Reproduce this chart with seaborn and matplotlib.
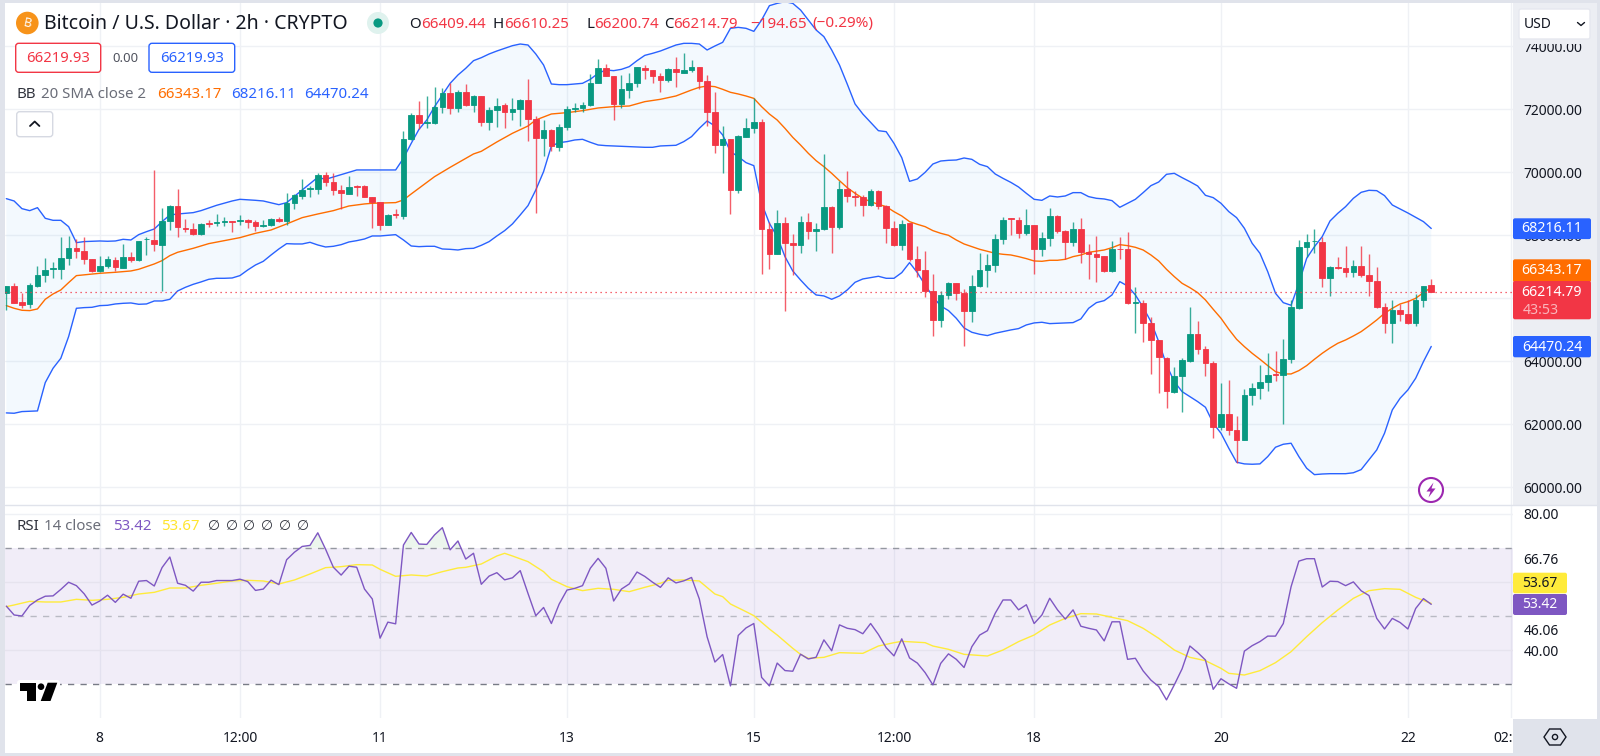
# %%
# BTC/USD 2h candles with bollinger bands and RSI
import matplotlib
matplotlib.use('Agg')
import numpy as np
import matplotlib.pyplot as plt
import seaborn as sns
from matplotlib.patches import Rectangle, FancyBboxPatch, Circle, Polygon

# candles
opens = [66160, 66390, 65870, 65810, 66400, 66740, 66940, 66930, 67280, 67610,
         67500, 67250, 66850, 67030, 67220, 66970, 67310, 67200, 67870, 67850,
         67700, 68440, 68940, 68240, 68200, 68040, 68400, 68390, 68430, 68450,
         68440, 68490, 68420, 68300, 68330, 68510, 68440, 69040, 69260, 69460,
         69470, 69900, 69680, 69450, 69320, 69570, 69550, 69230, 69070, 68330,
         68680, 68610, 71050, 71820, 71570, 71560, 72060, 72530, 72030, 72550,
         72130, 72430, 71610, 71990, 72130, 71920, 72020, 72290, 71700, 71080,
         71340, 70810, 71440, 72010, 72040, 72140, 72850, 73300, 73060, 72160,
         72620, 72830, 73310, 73250, 73060, 72940, 73270, 73160, 73250, 73350,
         72910, 71900, 70870, 71050, 69440, 71130, 71410, 71590, 68190, 67410,
         68400, 67770, 67690, 68420, 68120, 68190, 68910, 68270, 69460, 69250,
         69200, 68960, 69410, 68930, 68240, 67690, 68380, 67250, 66900, 66220,
         65310, 66100, 66470, 66160, 65580, 66390, 66890, 67060, 67880, 68540,
         68480, 68080, 68330, 67570, 67900, 68620, 68150, 67790, 68190, 67480,
         67410, 67340, 66860, 67580, 67550, 65860, 65860, 65200, 64670, 64110,
         63030, 63530, 64010, 64860, 64390, 63930, 61900, 62310, 61810, 61500,
         62930, 63160, 63350, 63580, 63550, 64060, 65700, 67630, 67810, 67790,
         66640, 67000, 66960, 66840, 67030, 66730, 66550, 65710, 65220, 65640,
         65490, 65200, 65950, 66409.44]
highs = [66400, 66480, 66180, 66480, 67040, 67270, 67140, 67930, 67990, 67880,
         67930, 67250, 67340, 67350, 67320, 67710, 67470, 67820, 67940, 70070,
         68860, 68960, 69460, 68510, 68400, 68400, 68490, 68680, 68590, 68450,
         68640, 68530, 68470, 68470, 68540, 68570, 69330, 69310, 69780, 69570,
         69970, 70000, 69970, 69590, 69880, 69590, 69590, 69230, 69070, 68680,
         68830, 71310, 71870, 72270, 72420, 72720, 72670, 72850, 72610, 72790,
         72450, 72430, 72080, 72350, 72190, 72350, 72330, 72950, 71800, 71660,
         71370, 71530, 72100, 72210, 72220, 73120, 73600, 73440, 73060, 73090,
         73160, 73350, 73410, 73250, 73160, 73300, 73650, 73780, 73570, 73350,
         73080, 72560, 71470, 71050, 71190, 71720, 72350, 71690, 68430, 68800,
         68570, 68040, 68610, 68720, 68380, 70570, 68930, 69730, 70030, 69420,
         69280, 69460, 69440, 68960, 68450, 68490, 68400, 67660, 67500, 66770,
         66230, 66520, 66500, 66290, 66750, 67450, 67400, 68030, 68590, 68550,
         68590, 68820, 68340, 68090, 68880, 68640, 68170, 68410, 68540, 67720,
         67990, 67340, 67810, 67940, 68090, 66350, 65930, 65420, 64680, 64120,
         63830, 64090, 65730, 65290, 64490, 64010, 63320, 63400, 62260, 63130,
         63310, 63870, 64270, 64330, 64700, 65950, 67850, 68030, 68210, 67940,
         67030, 67310, 67660, 67220, 67670, 67400, 66980, 65840, 65950, 65820,
         65950, 66130, 66390, 66610.25]
lows = [65630, 65840, 65680, 65680, 66370, 66530, 66630, 66600, 67060, 67270,
        67090, 66830, 66830, 66950, 66880, 66950, 67140, 67190, 67370, 67510,
        66230, 68170, 67960, 68110, 68020, 68010, 68270, 68300, 68310, 68100,
        68340, 68230, 68150, 68260, 68310, 68420, 68330, 68830, 69150, 69230,
        69310, 69580, 69280, 68820, 69300, 69260, 69210, 68240, 68170, 68320,
        68540, 68510, 71030, 71370, 71420, 71530, 71890, 71840, 71900, 72110,
        71910, 71470, 71340, 71450, 71420, 71660, 71470, 71000, 68720, 70520,
        70660, 70690, 71340, 71900, 71930, 72120, 72830, 73050, 71660, 72040,
        72360, 72720, 72950, 72830, 72540, 72880, 72720, 73140, 73200, 72660,
        71470, 70620, 69970, 68680, 69350, 71120, 71240, 66770, 66930, 67390,
        65610, 66730, 67450, 67870, 67490, 68170, 67430, 68210, 69060, 68940,
        68610, 68940, 68840, 67750, 67660, 67530, 67170, 66690, 66030, 64800,
        65080, 65980, 65930, 64490, 65240, 66370, 66370, 66840, 67710, 68010,
        67910, 68020, 66760, 67340, 67660, 68080, 67240, 67660, 67130, 66600,
        66530, 66840, 66840, 67240, 65810, 64890, 64620, 63590, 62980, 62510,
        63000, 62400, 63990, 64220, 63540, 61550, 61820, 61660, 60760, 61490,
        62610, 62800, 63040, 63370, 62010, 63960, 65650, 67320, 67450, 66350,
        66080, 66930, 66660, 66670, 66660, 66070, 65700, 64890, 64570, 65290,
        65190, 65120, 65730, 66200.74]
closes = [66400, 65860, 65800, 66420, 66740, 66910, 66960, 67290, 67610, 67510,
          67250, 66850, 67040, 67240, 66980, 67310, 67200, 67820, 67890, 67720,
          68450, 68940, 68270, 68210, 68040, 68370, 68370, 68420, 68450, 68430,
          68480, 68430, 68300, 68320, 68520, 68440, 69040, 69270, 69450, 69500,
          69910, 69700, 69450, 69330, 69530, 69530, 69230, 69070, 68330, 68650,
          68650, 71050, 71830, 71560, 71590, 72060, 72530, 72030, 72560, 72130,
          72430, 71610, 71990, 72120, 71920, 72020, 72300, 71700, 71080, 71340,
          70850, 71450, 72010, 72030, 72150, 72850, 73300, 73070, 72160, 72630,
          72830, 73330, 73250, 73060, 72940, 73280, 73170, 73240, 73340, 72910,
          71920, 70870, 71050, 69440, 71150, 71410, 71590, 68190, 67410, 68400,
          67770, 67690, 68420, 68120, 68190, 68910, 68270, 69460, 69250, 69200,
          68960, 69410, 68930, 68240, 67690, 68360, 67250, 66900, 66220, 65310,
          66100, 66480, 66160, 65580, 66390, 66890, 67060, 67880, 68490, 68510,
          68080, 68330, 67570, 67900, 68620, 68140, 67790, 68190, 67480, 67410,
          67320, 66860, 67550, 67550, 65840, 65880, 65200, 64680, 64120, 63050,
          63530, 64040, 64860, 64390, 63930, 61900, 62310, 61810, 61500, 62930,
          63160, 63350, 63570, 63550, 64060, 65730, 67630, 67790, 67830, 66640,
          66990, 66970, 66840, 67030, 66730, 66550, 65710, 65230, 65640, 65490,
          65210, 65950, 66390, 66214.79]

# bollinger lines, read where the line could be made out
upper_idx = [0, 1, 2, 3, 4, 5, 6, 7, 8, 9, 10, 11, 12, 13, 14, 15, 16, 17, 18, 19, 20, 21, 22, 24, 25, 27, 29, 30,
             32, 33, 35, 36, 38, 40, 41, 44, 45, 46, 50, 51, 52, 53, 54, 55, 56, 57, 58, 59, 60, 61, 62, 63, 64, 65,
             66, 67, 68, 69, 70, 71, 72, 73, 74, 75, 76, 77, 78, 79, 80, 81, 82, 83, 84, 85, 86, 87, 88, 89, 90, 91,
             92, 93, 94, 95, 96, 97, 98, 99, 100, 101, 102, 103, 104, 105, 106, 107, 108, 109, 110, 111, 112, 113,
             114, 115, 116, 117, 118, 119, 120, 121, 122, 123, 124, 125, 126, 127, 128, 129, 130, 131, 132, 133,
             134, 135, 136, 137, 138, 139, 140, 141, 142, 143, 144, 145, 146, 147, 148, 149, 150, 151, 152, 153,
             154, 155, 156, 157, 158, 159, 160, 161, 162, 163, 164, 165, 166, 167, 168, 169, 170, 171, 172, 173,
             174, 175, 176, 177, 178, 179, 180, 181, 182, 183]
upper = [69163, 69089, 68846, 68782, 68877, 68539, 68475, 68475, 68274, 67766, 67800, 67810, 67819, 67810, 67819,
         67872, 67851, 68020, 68115, 68200, 68433, 68644, 68676, 68719, 68782, 68951, 69089, 69142,
         69110, 69089, 68972, 69036, 69438, 69840, 69777, 69999, 70074, 70074, 70074, 70444, 70920, 71365, 71661,
         72084, 72454, 72825, 73089, 73301, 73544, 73639, 73756, 73851, 73935, 74020,
         74073, 74041, 73756, 73406, 72803, 72782, 72782, 72803, 72825, 72952, 73142, 73248, 73227, 73269, 73354,
         73544, 73713, 73777, 73851, 73946, 74041, 74094, 74094, 74073, 73883, 74010,
         74126, 74571, 74602, 74571, 74475, 74835, 75290, 75364, 75417, 75364, 75153, 74835, 74518, 74306, 73883,
         73407, 72800, 72170, 71850, 71586, 71321, 71289,
         70919, 70464, 69713, 69787, 69999, 70263, 70358, 70380, 70390, 70454, 70411, 70253, 70179, 69946, 69808,
         69681, 69533, 69332, 69142, 69110,
         69248, 69216, 69248, 69354, 69354, 69227, 69174, 69153, 69100, 68888, 69015, 69142, 69354, 69576, 69692,
         69936, 69967, 69830, 69703, 69565,
         69269, 69195, 69015, 68751, 68560, 68222, 67745, 67427, 66845, 66158, 65861, 65777, 66475, 67268, 67639,
         67957, 68454, 68698, 68909, 69174,
         69364, 69428, 69417, 69259, 68962, 68835, 68708, 68571, 68433, 68216.11]
lower = [62360, 62349, 62402, 62412, 62423, 63322, 63777, 64095, 64782, 65682,
         65703, 65713, 65766, 65777, 65819, 65840, 65851, 65809, 65819, 65914,
         65914, 65967, 66232, 66348, 66443, 66518, 66602, 66634, 66634, 66644,
         66719, 66898, 67057, 67173, 67374, 67565, 67734, 67724, 67724, 67777,
         67692, 67628, 67650, 67702, 67787, 67829, 67882, 67978, 67978, 67999,
         68020, 67851, 67660, 67639, 67650, 67650, 67565, 67554, 67533, 67576,
         67586, 67681, 67798, 67978, 68147, 68360, 68645, 68942, 69439, 70021,
         70836, 70941, 70973, 71026, 71047, 70952, 70867, 70846, 70836, 70825,
         70814, 70804, 70793, 70793, 70836, 70846, 70857, 70973, 71132, 71396,
         71629, 71470, 71185, 70656, 70496, 70306, 70210, 69015, 68380, 67957,
         67322, 66867, 66581, 66317, 66105, 66074, 65968, 66074, 66264, 66507,
         66613, 66655, 66698, 66634, 66634, 66814, 67132, 66814, 66423, 66052,
         65756, 65608, 65365, 65058, 64920, 64857, 64815, 64889, 64942, 64994,
         65037, 65153, 65217, 65238, 65195, 65206, 65217, 65227, 65344, 65681,
         65861, 65925, 66105, 66528, 66390, 66105, 65713, 65258, 64623, 63883,
         63354, 63036, 62878, 62719, 62539, 62031, 61714, 61238, 60794, 60741,
         60730, 60741, 60973, 61270, 61365, 61397, 60973, 60603, 60400, 60420,
         60430, 60430, 60430, 60460, 60560, 60870, 61185, 61714, 62455, 62825,
         63089, 63460, 63989, 64470.24]
basis_idx = [0, 1, 2, 3, 4, 5, 6, 7, 8, 9, 12, 14, 16, 17, 19, 20, 21, 22, 24, 26, 28, 30, 32, 34, 36, 38, 40, 42, 43,
             44, 45, 46, 47, 50, 51, 52, 55, 57, 60, 61, 63, 65, 67, 68, 70, 72, 74, 76, 78, 80, 82, 84, 86, 88, 89,
             90, 91, 92, 93, 94, 95, 96, 97, 98, 99, 100, 101, 102, 103, 104, 105, 106, 107, 108, 109, 110, 111,
             112, 113, 114, 115, 116, 117, 118, 119, 120, 121, 122, 123, 124, 125, 126, 127, 128, 129, 130, 131,
             132, 133, 134, 135, 136, 137, 138, 139, 141, 142, 143, 144, 145, 146, 147, 148, 149, 150, 151, 152,
             153, 154, 155, 156, 157, 158, 159, 160, 161, 162, 163, 164, 165, 166, 167, 168, 169, 170, 171, 172,
             173, 174, 175, 176, 177, 178, 179, 180, 181, 182, 183]
basis = [65767, 65682, 65619, 65608, 65661, 65968, 66137, 66264, 66497, 66719, 66793, 66825, 66867, 66920, 67089,
         67195, 67354, 67460, 67586, 67735, 67830, 67925, 68063, 68168, 68359, 68560, 68676, 68782, 68856,
         68930, 68962, 68995, 69016, 69037, 69122, 69312, 69862, 70158, 70582, 70666, 70963, 71238, 71470, 71661,
         71851, 71894, 71957, 72042, 72084, 72105, 72243, 72317, 72423, 72613, 72698,
         72740, 72719, 72634, 72539, 72486, 72422, 72347, 72083, 71850, 71660, 71395, 71110, 70866, 70602, 70369,
         70179, 69967, 69734, 69512, 69332, 69173, 69068,
         68983, 68909, 68750, 68613, 68433, 68348, 68274, 68147, 68063, 67999, 67851, 67724, 67639, 67555, 67491,
         67428, 67396, 67375, 67322, 67259,
         67184, 67174, 67206, 67206, 67237, 67322, 67374, 67459, 67533, 67607, 67702, 67671, 67618, 67533, 67374,
         67184, 66919, 66687, 66475, 66337,
         66179, 65946, 65650, 65364, 65015, 64698, 64465, 64253, 64063, 63862, 63671, 63597, 63597, 63703, 63862,
         64063, 64253, 64422, 64571, 64676,
         64803, 64941, 65121, 65311, 65523, 65681, 65819, 65893, 65999, 66179, 66343.17]

rsi = [52.9, 50.3, 50.0, 53.1, 54.7, 55.8, 55.9, 57.8, 59.9, 58.9,
       56.5, 53.2, 54.4, 56.1, 54.0, 56.4, 55.2, 60.2, 60.4, 58.8,
       64.2, 67.3, 59.6, 59.0, 57.3, 59.9, 59.9, 60.4, 60.4, 60.4,
       60.8, 60.1, 57.5, 57.9, 60.5, 59.2, 66.5, 68.7, 70.4, 70.7,
       74.4, 69.6, 64.3, 62.0, 64.6, 64.3, 57.9, 55.0, 43.5, 48.2,
       47.7, 70.8, 74.5, 71.1, 71.0, 73.8, 75.9, 69.4, 72.0, 66.7,
       68.4, 59.3, 61.7, 62.7, 60.6, 61.2, 63.3, 56.6, 50.1, 52.5,
       47.8, 53.5, 57.6, 58.1, 58.9, 64.0, 66.9, 64.0, 54.4, 57.9,
       59.4, 62.9, 61.6, 59.9, 58.4, 61.2, 59.7, 60.3, 61.3, 55.0,
       43.9, 36.5, 38.7, 29.5, 44.3, 46.5, 47.8, 32.0, 29.5, 36.2,
       34.0, 33.8, 38.8, 37.4, 37.9, 43.0, 39.8, 47.4, 46.4, 46.0,
       44.8, 47.8, 44.6, 40.7, 38.3, 43.3, 37.7, 36.2, 33.4, 29.8,
       36.1, 38.9, 37.3, 34.9, 41.0, 44.4, 45.7, 50.8, 54.7, 54.7,
       51.8, 53.3, 47.8, 50.3, 55.2, 51.8, 49.1, 51.8, 47.0, 46.4,
       45.9, 42.7, 48.3, 48.3, 37.3, 37.6, 33.9, 31.2, 29.3, 25.4,
       29.8, 34.5, 41.2, 39.3, 37.1, 28.5, 31.6, 30.1, 28.8, 39.7,
       41.3, 42.5, 44.1, 44.1, 47.8, 58.6, 66.1, 66.8, 66.8, 58.5,
       60.2, 60.1, 58.9, 60.0, 57.4, 56.0, 49.3, 46.2, 49.3, 48.1,
       46.2, 52.2, 55.1, 53.42]
rsi_ma_idx = [0, 1, 3, 5, 7, 9, 11, 13, 15, 17, 19, 21, 23, 25, 27, 29, 31, 33, 35, 37, 39, 41, 43, 45, 47, 48, 50,
              52, 54, 56, 58, 59, 61, 63, 64, 65, 67, 69, 70, 72, 74, 76, 78, 80, 82, 84, 85, 87, 89, 91, 92, 93,
              95, 96, 98, 99, 101, 102, 103, 105, 107, 110, 112, 114, 115, 118, 119, 121, 123, 126, 128, 130, 132,
              134, 136, 138, 140, 142, 144, 146, 148, 150, 152, 154, 156, 157, 159, 161, 163, 165, 167, 169, 171,
              173, 175, 177, 179, 181, 183]
rsi_ma = [52.74, 53.23, 54.30, 54.11, 54.11, 54.89, 54.60, 54.89, 55.48, 56.45, 56.94, 58.21, 58.21, 59.0, 59.6,
          60.27, 60.46, 60.27, 59.39, 60.56, 62.32, 64.18, 64.47, 65.06, 64.96, 63.69, 61.64,
          62.03, 61.73, 63.0, 64.08, 64.27, 65.25, 67.6, 68.38, 67.6, 65.94, 63.0, 60.76, 58.6, 57.43, 58.12,
          57.82, 57.14, 58.41, 59.6, 60.46, 60.56, 60.27, 56.45, 55.67, 53.52,
          51.27, 50.1, 46.19, 44.43, 40.52, 38.76, 37.59, 37.88, 39.25, 39.05, 41.2, 42.18, 42.57, 42.18, 41.2,
          40.23, 38.76, 38.27, 40.03, 42.48, 44.43,
          47.36, 49.32, 50.69, 50.59, 49.61, 48.63, 46.39, 43.45, 40.03, 37.88, 36.9, 34.66, 33.19, 32.7, 33.97,
          36.32, 39.54, 43.94, 48.05, 51.76,
          55.18, 57.43, 58.02, 57.82, 55.48, 53.67]

# 66000 sits behind the price badges in the chart, so it has no label
price_ticks = [60000, 62000, 64000, 66000, 68000, 70000, 72000, 74000]
price_labels = ['60000.00', '62000.00', '64000.00', '', '68000.00', '70000.00', '72000.00', '74000.00']
rsi_ticks = [40, 46.06, 66.76, 80]
rsi_grid = [40, 60, 80]
time_pos = [12, 30, 48, 72, 96, 114, 132, 156, 180, 193.2]
time_labels = ['8', '12:00', '11', '13', '15', '12:00', '18', '20', '22', '02:00']

GREEN = '#089981'
RED = '#f23645'
BLUE = '#2962ff'
ORANGE = '#ff6d00'
PURPLE = '#7e57c2'
YELLOW = '#ffeb3b'
GRID = '#eff1f5'
INK = '#131722'
GREY = '#6a6d78'
FRAME = '#e0e3eb'
PANEL = '#eceef3'

W, H = 1600, 756
sns.set_theme(style='white')
plt.rcParams['font.family'] = ['Noto Sans', 'DejaVu Sans']

fig = plt.figure(figsize=(W / 100, H / 100), dpi=100, facecolor='white')


def px_axes(left, top, right, bottom):
    return fig.add_axes([left / W, 1 - bottom / H, (right - left) / W, (bottom - top) / H])


back = px_axes(0, 0, W, H)
back.set_zorder(-1)
back.set_xlim(0, W)
back.set_ylim(H, 0)
back.axis('off')
back.add_patch(Rectangle((1513, 3), 84, 502, color=PANEL, lw=0))

# %%
# price pane
ax = px_axes(5, 3, 1513, 505)
x = np.arange(len(closes))
ax.set_xlim(-0.17, 193.5)
ax.set_ylim(59436, 75375)
ax.patch.set_alpha(0)

ax.fill(np.r_[upper_idx, x[::-1]], np.r_[upper, lower[::-1]], color='#2196f3', alpha=0.05, lw=0, zorder=1)
sns.lineplot(x=upper_idx, y=upper, ax=ax, color=BLUE, lw=1, legend=False, zorder=2)
sns.lineplot(x=x, y=lower, ax=ax, color=BLUE, lw=1, legend=False, zorder=2)
sns.lineplot(x=basis_idx, y=basis, ax=ax, color=ORANGE, lw=1, legend=False, zorder=2)

opens_a, closes_a = np.array(opens), np.array(closes)
colors = [GREEN if c >= o else RED for o, c in zip(opens, closes)]
ax.vlines(x, lows, highs, colors=colors, lw=1, alpha=0.8, zorder=3)
ax.bar(x, np.abs(closes_a - opens_a), bottom=np.minimum(opens_a, closes_a), width=0.72,
       color=colors, edgecolor=colors, lw=0.6, zorder=4)
ax.axhline(closes[-1], color=RED, lw=0.9, ls=(0, (1, 3)), zorder=5)

ax.set_xticks(time_pos)
ax.set_yticks(price_ticks)
ax.set_yticklabels(price_labels)
ax.set_xticklabels([])
ax.yaxis.tick_right()
ax.tick_params(axis='y', length=0, pad=7.5, labelsize=10, labelcolor=INK)
ax.tick_params(axis='x', length=0)
for lab in ax.get_yticklabels():
    lab.set_verticalalignment('center_baseline')
ax.grid(True, color=GRID, lw=1)
ax.set_axisbelow(True)
ax.set_xlabel('')
ax.set_ylabel('')
sns.despine(ax=ax, left=True, bottom=True, top=True, right=True)

# %%
# rsi pane
ax2 = px_axes(5, 505, 1513, 718)
ax2.set_xlim(-0.17, 193.5)
ax2.set_ylim(20.09, 82.55)
ax2.patch.set_alpha(0)
ax2.axhspan(30, 70, color=PURPLE, alpha=0.1, lw=0, zorder=1)
ax2.axhline(70, color='#9598a1', lw=1, ls=(0, (4.5, 4.5)), zorder=2)
ax2.axhline(50, color='#b9bac4', lw=1, ls=(0, (4.5, 4.5)), zorder=2)
ax2.axhline(30, color='#787b86', lw=1, ls=(0, (4.5, 4.5)), zorder=2)
for g in rsi_grid:
    ax2.axhline(g, color=GRID if g == 80 else '#e6e3ee', lw=1, zorder=1.5)
ax2.fill_between(x, 70, rsi, where=np.array(rsi) > 70, interpolate=True, color='#4caf50', alpha=0.1, lw=0, zorder=1)
sns.lineplot(x=rsi_ma_idx, y=rsi_ma, ax=ax2, color=YELLOW, lw=1, legend=False, zorder=3)
sns.lineplot(x=x, y=rsi, ax=ax2, color=PURPLE, lw=1, legend=False, zorder=4)

ax2.set_xticks(time_pos)
ax2.set_xticklabels(time_labels)
ax2.set_yticks(rsi_ticks)
ax2.set_yticklabels(['%.2f' % r for r in rsi_ticks])
ax2.yaxis.tick_right()
ax2.tick_params(axis='y', length=0, pad=7.5, labelsize=10, labelcolor=INK)
ax2.tick_params(axis='x', length=0, pad=9.3, labelsize=10, labelcolor=INK)
for lab in ax2.get_yticklabels():
    lab.set_verticalalignment('center_baseline')
ax2.grid(True, axis='x', color=GRID, lw=1)
ax2.set_axisbelow(True)
ax2.set_xlabel('')
ax2.set_ylabel('')
sns.despine(ax=ax2, left=True, bottom=True, top=True, right=True)

# %%
# everything of the app around the plot
ov = px_axes(0, 0, W, H)
ov.set_zorder(10)
ov.set_xlim(0, W)
ov.set_ylim(H, 0)
ov.axis('off')
ov.patch.set_alpha(0)


def txt(px, py, s, color=INK, size=10, ha='left', **kw):
    ov.text(px, py + 1.5, s, color=color, fontsize=size, ha=ha, va='center', **kw)


def box(px, py, w, h, face, edge='none', r=2, lw=1, z=2):
    ov.add_patch(FancyBboxPatch((px + r, py + r), w - 2 * r, h - 2 * r, boxstyle='round,pad=%s,rounding_size=%s' % (r, r),
                                fc=face, ec=edge, lw=lw, zorder=z))


# outer frame and panel cover above the top tick
for rect in [(0, 0, 5, H), (0, 0, W, 3), (0, 753, W, 3), (1597, 0, 3, H)]:
    ov.add_patch(Rectangle(rect[:2], rect[2], rect[3], color=FRAME, lw=0, zorder=1))
ov.add_patch(Rectangle((1513, 3), 84, 40.5, color=PANEL, lw=0, zorder=1))
ov.add_patch(Rectangle((1513, 718.5), 84, 35, color=FRAME, lw=0, zorder=1))
ov.plot([5, 1597], [505, 505], color=FRAME, lw=1, zorder=1)
box(1519, 9, 71, 30, 'white', edge='#e6e8ef')
txt(1523.5, 23, 'USD', size=10)
ov.plot([1577.5, 1581, 1584.5], [22.5, 25.5, 22.5], color=INK, lw=1, zorder=3)

# settings hexagon
ov.add_patch(Polygon([(1544, 737), (1549.5, 729), (1560.5, 729), (1566, 737), (1560.5, 745), (1549.5, 745)],
                     closed=True, fc='none', ec=INK, lw=1, zorder=3))
ov.add_patch(Circle((1555, 737), 2.6, fc='none', ec=INK, lw=1, zorder=3))

# header
ov.add_patch(Circle((27.3, 23), 11.3, color='#f7931a', lw=0, zorder=2))
ov.text(27.3, 23, 'B', color='white', fontsize=9, fontweight='bold', ha='center', va='center', rotation=-12, zorder=3)
txt(44.5, 22.5, 'Bitcoin / U.S. Dollar · 2h · CRYPTO', size=14.05)
ov.add_patch(Circle((378, 23), 11, color='#dff2ee', lw=0, zorder=2))
ov.add_patch(Circle((378, 23), 4.6, color=GREEN, lw=0, zorder=3))
for px, head, val in [(409, 'O', '66409.44'), (493, 'H', '66610.25'), (586, 'L', '66200.74'), (664, 'C', '66214.79')]:
    t = ov.text(px, 24, head, color=INK, fontsize=10.8, ha='left', va='center')
    ov.annotate(val, xy=(1, 0.5), xycoords=t, xytext=(0, 0), textcoords='offset points', color=RED, fontsize=10.8,
                ha='left', va='center')
txt(750, 22.5, '−194.65', RED, 11)
txt(812, 22.5, '(−0.29%)', RED, 11)

box(15.7, 43.3, 85, 29, 'white', edge=RED, r=3)
txt(58.2, 57, '66219.93', RED, 10.7, ha='center')
txt(125, 57.5, '0.00', '#50535e', 9.4, ha='center')
box(149, 43.3, 85.7, 29, 'white', edge=BLUE, r=3)
txt(191.8, 57, '66219.93', BLUE, 10.7, ha='center')

txt(16.7, 92.5, 'BB', '#2f323c', 10.8)
txt(40.7, 92.5, '20 SMA close 2', GREY, 10.8)
txt(156.7, 92.5, '66343.17', ORANGE, 10.8)
txt(230.7, 92.5, '68216.11', BLUE, 10.8)
txt(304, 92.5, '64470.24', BLUE, 10.8)
box(16.7, 111.7, 36, 25, 'white', edge='#d6d9e2', r=3)
ov.plot([30, 34.7, 39.4], [126, 121.5, 126], color=INK, lw=1.3, zorder=3)

txt(16.7, 525.5, 'RSI', '#2f323c', 10.8)
txt(44.3, 525.5, '14 close', GREY, 10.8)
txt(113.3, 525.5, '53.42', PURPLE, 10.8)
txt(161.3, 525.5, '53.67', '#ffe52e', 10.8)
for px in [214, 231.7, 249.3, 267.3, 285, 302.7]:
    txt(px, 525.5, '∅', '#2f323c', 10, ha='center')

# price and rsi badges
box(1513, 218.3, 78, 20.8, BLUE)
txt(1552, 227.5, '68216.11', 'white', 10.2, ha='center')
box(1513, 259.3, 78, 23, ORANGE)
txt(1552, 269, '66343.17', 'white', 10.2, ha='center')
box(1513, 281, 78, 38.3, RED)
txt(1552, 291, '66214.79', 'white', 10.2, ha='center')
txt(1523, 309, '43:53', '#fab5bb', 10.2)
box(1513, 336, 78, 21.3, BLUE)
txt(1552, 345.6, '64470.24', 'white', 10.2, ha='center')
box(1513, 572.7, 54, 20.6, '#ffeb3b')
txt(1540, 582, '53.67', INK, 10, ha='center')
box(1513, 594, 54, 21, PURPLE)
txt(1540, 603.5, '53.42', 'white', 10, ha='center')

# lightning badge
ov.add_patch(Circle((1431, 490), 12, fc='white', ec='#9c27b0', lw=1.5, zorder=3))
ov.add_patch(Polygon([(1433.5, 482.5), (1426.5, 491.5), (1430.5, 491.5), (1428.5, 497.5), (1435.5, 488.5), (1431.5, 488.5)],
                     closed=True, fc='#9c27b0', ec='none', zorder=4))

# logo
box(17, 680, 43, 24, 'white', r=3, z=2)
ov.add_patch(Polygon([(20, 682.7), (35.7, 682.7), (35.7, 701), (27.3, 701), (27.3, 690.7), (20, 690.7)],
                     closed=True, fc='black', ec='none', zorder=3))
ov.add_patch(Circle((41, 686.7), 3.3, fc='black', ec='none', zorder=3))
ov.add_patch(Polygon([(57.3, 682.7), (50.5, 701), (40.7, 701), (47.7, 682.7)], closed=True, fc='black', ec='none', zorder=3))

fig.savefig('out.png', dpi=100)
